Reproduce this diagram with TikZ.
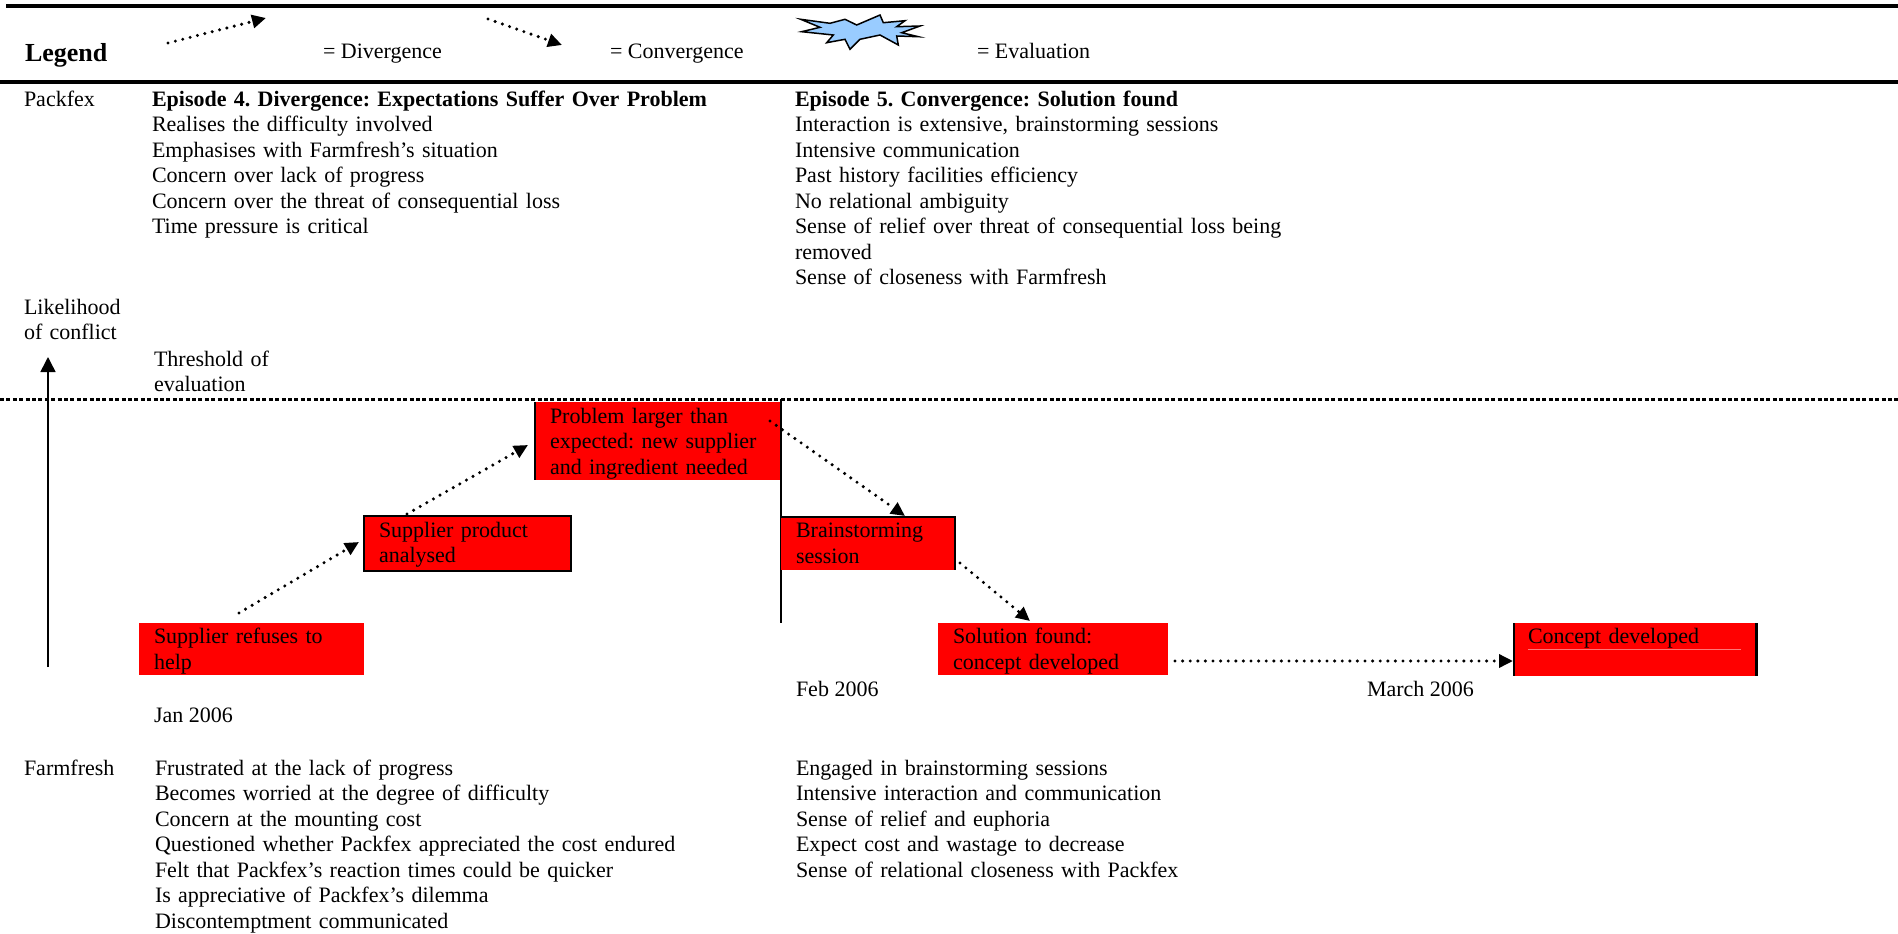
\documentclass[tikz,border=0pt]{standalone}
\usepackage{fontspec}
\setmainfont{Liberation Serif}
\usetikzlibrary{arrows.meta,calc}
\definecolor{boxred}{RGB}{255,0,0}
\definecolor{starblue}{RGB}{153,204,255}
\definecolor{faintred}{RGB}{255,120,120}
\frenchspacing
\begin{document}
\begin{tikzpicture}[x=1pt,y=-1pt,
  every node/.style={inner sep=0pt, outer sep=0pt, font=\fontsize{22}{25.5}\selectfont\frenchspacing},
  txt/.style={anchor=base west, align=left, text width=#1},
  txt/.default=600pt,
  redbox/.style={fill=boxred, draw=none, anchor=north west},
  flow/.style={line width=3.4pt, dash pattern=on 0pt off 7.6pt, line cap=round,
    -{Triangle[length=14pt,width=13pt]}},
  rule/.style={line width=#1},
]
\useasboundingbox (0,0) rectangle (1898,934);

% ---------- legend ----------
\draw[rule=4.5pt] (6,6) -- (1898,6);
\draw[rule=4pt] (0,82) -- (1898,82);
\node[anchor=base west, font=\fontsize{26}{30}\selectfont\bfseries] (leg) at (25,61.5) {Legend};
\coordinate (ld1) at (168,43); \coordinate (ld2) at (266,18);
\draw[flow] (ld1) -- (ld2);
\node[anchor=base west] (legd) at (323,58.5) {= Divergence};
\coordinate (lc1) at (488,19); \coordinate (lc2) at (562,45);
\draw[flow] (lc1) -- (lc2);
\node[anchor=base west] (legc) at (610,58.5) {= Convergence};
\draw[fill=starblue, line width=1.5pt, line join=miter]
  (800.7,19.3) -- (830,23.3) -- (845,19.3) -- (856.7,25) -- (880,15) -- (883.3,22.7)
  -- (905,20.7) -- (896.7,26.7) -- (920,26) -- (901.7,32.7) -- (918.3,36.7)
  -- (896.7,36) -- (898.3,45) -- (880,35) -- (860,39.3) -- (850,49.3) -- (845,39.3)
  -- (826.7,42.7) -- (833.3,35) -- (801.7,31.7) -- (820,27.3) -- cycle;
\node[anchor=base west] (lege) at (977,58.5) {= Evaluation};

% ---------- Packfex ----------
\node[anchor=base west] (pack) at (24,106.2) {Packfex};
\node[txt] (ep4) at (152,106.2) {\textbf{Episode 4. Divergence: Expectations Suffer Over Problem}\\
Realises the difficulty involved\\
Emphasises with Farmfresh’s situation\\
Concern over lack of progress\\
Concern over the threat of consequential loss\\
Time pressure is critical};
\node[txt] (ep5) at (795,106.2) {\textbf{Episode 5. Convergence: Solution found}\\
Interaction is extensive, brainstorming sessions\\
Intensive communication\\
Past history facilities efficiency\\
No relational ambiguity\\
Sense of relief over threat of consequential loss being\\
removed\\
Sense of closeness with Farmfresh};

% ---------- axis and threshold ----------
\node[txt] (like) at (24,314.2) {Likelihood\\of conflict};
\node[txt] (thr) at (154,366) {Threshold of\\evaluation};
\coordinate (ax0) at (48,667); \coordinate (ax1) at (48,357);
\draw[line width=1.5pt, -{Triangle[length=15pt,width=15pt]}] (ax0) -- (ax1);
\draw[line width=3.3pt, dash pattern=on 4pt off 2.4pt] (0,399.5) -- (1898,399.5);
\draw[line width=2pt] (781,399) -- (781,623);

% ---------- red boxes ----------
\node[redbox, minimum width=225pt, minimum height=52pt] (b1) at (139,623) {};
\node[txt] (b1t) at ($(b1.north west)+(15,20.5)$) {Supplier refuses to\\help};

\node[redbox, minimum width=207pt, minimum height=55pt] (b2) at (364,516) {};
\draw[line width=2pt] (b2.north west) rectangle (b2.south east);
\node[txt] (b2t) at ($(b2.north west)+(15,21)$) {Supplier product\\analysed};

\node[redbox, minimum width=245pt, minimum height=78pt] (b3) at (535,402) {};
\draw[line width=2pt] (b3.north west) -- (b3.south west);
\node[txt] (b3t) at ($(b3.north west)+(15,21)$) {Problem larger than\\expected: new supplier\\and ingredient needed};

\node[redbox, minimum width=174pt, minimum height=53pt] (b4) at (781,517) {};
\draw[line width=2pt] (b4.north west) -- (b4.north east) -- (b4.south east);
\node[txt] (b4t) at ($(b4.north west)+(15,20.5)$) {Brainstorming\\session};

\node[redbox, minimum width=230pt, minimum height=52pt] (b5) at (938,623) {};
\node[txt] (b5t) at ($(b5.north west)+(15,20.5)$) {Solution found:\\concept developed};

\node[redbox, minimum width=242pt, minimum height=53pt] (b6) at (1514,623) {};
\draw[line width=1.5pt] (b6.north west) -- (b6.south west);
\draw[line width=3pt] (b6.north east) -- (b6.south east);
\node[txt] (b6t) at ($(b6.north west)+(14,20.5)$) {Concept developed};
\draw[faintred, line width=1pt] ($(b6.north west)+(14,26.5)$) -- ($(b6.north east)+(-15,26.5)$);

% ---------- connectors ----------
\draw[flow] ($(b1.north west)+(100,-10)$) -- ($(b2.north west)+(-5,26)$);
\draw[flow] ($(b2.north west)+(43,-2)$) -- ($(b3.north west)+(-7,43)$);
\draw[flow] ($(b3.north east)+(-10,19)$) -- ($(b4.north west)+(124,-1)$);
\draw[flow] ($(b4.south east)+(5,-7)$) -- ($(b5.north west)+(92,-2)$);
\draw[flow] ($(b5.south east)+(7,-14)$) -- ($(b6.south west)+(-1,-15)$);

% ---------- dates ----------
\node[anchor=base west] (jan) at (154,722.4) {Jan 2006};
\node[anchor=base west] (feb) at (796,696.2) {Feb 2006};
\node[anchor=base west] (mar) at (1367,696.2) {March 2006};

% ---------- Farmfresh ----------
\node[anchor=base west] (farm) at (24,775.4) {Farmfresh};
\node[txt] (ff1) at (155,775.4) {Frustrated at the lack of progress\\
Becomes worried at the degree of difficulty\\
Concern at the mounting cost\\
Questioned whether Packfex appreciated the cost endured\\
Felt that Packfex’s reaction times could be quicker\\
Is appreciative of Packfex’s dilemma\\
Discontemptment communicated};
\node[txt] (ff2) at (796,775.4) {Engaged in brainstorming sessions\\
Intensive interaction and communication\\
Sense of relief and euphoria\\
Expect cost and wastage to decrease\\
Sense of relational closeness with Packfex};
\end{tikzpicture}
\end{document}
